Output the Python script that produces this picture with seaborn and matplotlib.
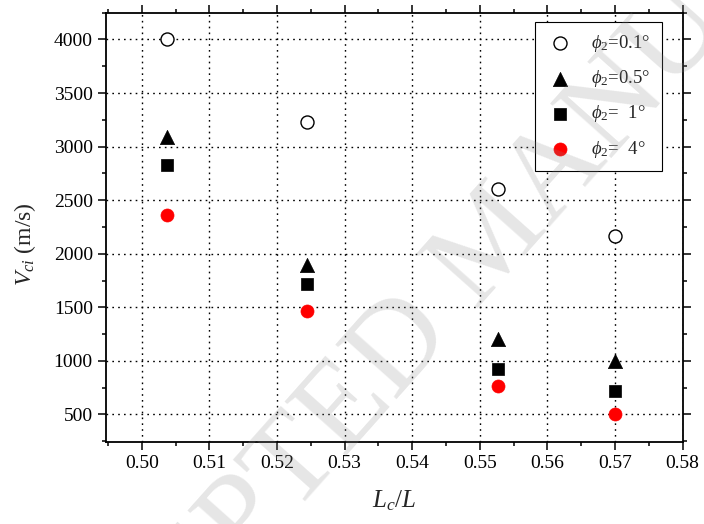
import matplotlib
matplotlib.use("Agg")
import matplotlib.pyplot as plt
import seaborn as sns
import pandas as pd
from matplotlib.ticker import MultipleLocator

# ---- data ----
lc_ratio = [0.5037, 0.5245, 0.5527, 0.5700]
v_phi01 = [4000, 3225, 2600, 2165]
v_phi05 = [3085, 1895, 1205, 1000]
v_phi1 = [2830, 1715, 925, 715]
v_phi4 = [2365, 1462, 765, 500]
labels = [r"$\phi_2$=0.1°", r"$\phi_2$=0.5°", r"$\phi_2$=  1°", r"$\phi_2$=  4°"]

sns.set_theme(style="white")
plt.rcParams["font.family"] = ["Liberation Serif", "DejaVu Serif"]
plt.rcParams["mathtext.fontset"] = "custom"
plt.rcParams["mathtext.rm"] = "Liberation Serif"
plt.rcParams["mathtext.it"] = "Liberation Serif:italic"
plt.rcParams["mathtext.fallback"] = "stix"

fig = plt.figure(figsize=(7.04, 5.24), dpi=100)
ax = fig.add_axes([0.1506, 0.157, 0.8191, 0.8188])

df = pd.DataFrame({"x": lc_ratio, "a": v_phi01, "b": v_phi05, "c": v_phi1, "d": v_phi4})

sns.scatterplot(data=df, x="x", y="a", ax=ax, marker="o", s=88, facecolor="white",
                edgecolor="black", linewidth=1.0, label=labels[0], zorder=5)
sns.scatterplot(data=df, x="x", y="b", ax=ax, marker="^", s=105, color="black",
                edgecolor="black", linewidth=0.5, label=labels[1], zorder=5)
sns.scatterplot(data=df, x="x", y="c", ax=ax, marker="s", s=72, color="black",
                edgecolor="black", linewidth=0.5, label=labels[2], zorder=5)
sns.scatterplot(data=df, x="x", y="d", ax=ax, marker="o", s=88, color="red",
                edgecolor="red", linewidth=0.5, label=labels[3], zorder=5)

ax.set_xlim(0.4947, 0.58)
ax.set_ylim(245, 4250)
ax.xaxis.set_major_locator(MultipleLocator(0.01))
ax.xaxis.set_minor_locator(MultipleLocator(0.005))
ax.yaxis.set_major_locator(MultipleLocator(500))
ax.yaxis.set_minor_locator(MultipleLocator(250))
ax.set_xticks([0.50, 0.51, 0.52, 0.53, 0.54, 0.55, 0.56, 0.57, 0.58])
ax.set_xticklabels(["0.50", "0.51", "0.52", "0.53", "0.54", "0.55", "0.56", "0.57", "0.58"])
ax.set_yticks([500, 1000, 1500, 2000, 2500, 3000, 3500, 4000])

ax.grid(True, which="major", color="black", linestyle=(0, (1.2, 3)), linewidth=1.0)
ax.set_axisbelow(True)

for sp in ax.spines.values():
    sp.set_visible(True)
    sp.set_color("black")
    sp.set_linewidth(1.3)

ax.tick_params(which="both", direction="out", top=True, right=True, bottom=True, left=True,
               color="black", width=1.1, labelsize=14, labelcolor="black")
ax.tick_params(which="major", length=6)
ax.tick_params(which="minor", length=3)

ax.set_xlabel(r"$L_c/L$", fontsize=18, labelpad=12)
ax.set_ylabel(r"$V_{ci}$ (m/s)", fontsize=17)
ax.yaxis.set_label_coords(-0.118, 0.46)

leg = ax.legend(loc="upper right", bbox_to_anchor=(0.9636, 0.978), borderaxespad=0,
                fontsize=13.5, frameon=True, fancybox=False, edgecolor="black",
                framealpha=1, labelspacing=0.75, handletextpad=0.9, borderpad=0.6,
                handlelength=1.5)
leg.get_frame().set_linewidth(0.8)

# watermark (semi-transparent overlay, as in the source page)
fig.text(0.704, 0.537, "ACCEPTED MANUSCRIPT", rotation=48.3, rotation_mode="anchor",
         ha="center", va="center", fontsize=90, color="#8c8c8c", alpha=0.22, zorder=20)

fig.savefig("out.png", dpi=100)
